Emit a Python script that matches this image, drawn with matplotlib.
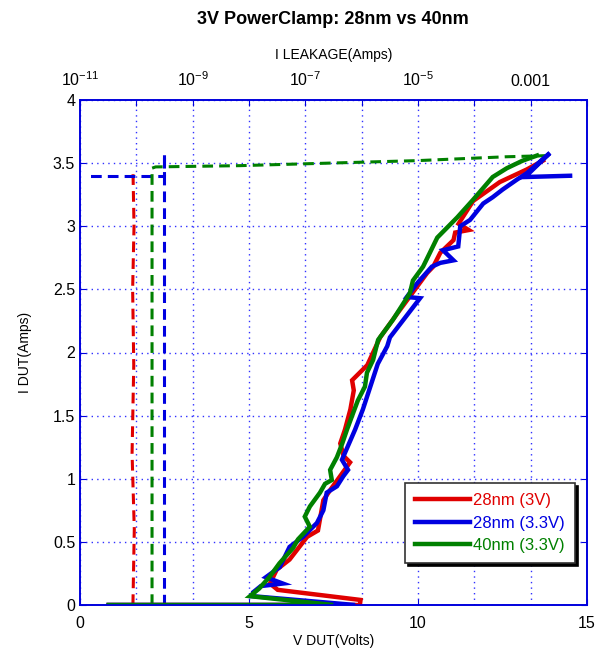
import matplotlib
matplotlib.use("Agg")
import matplotlib.pyplot as plt
from matplotlib.ticker import FixedLocator, FixedFormatter, NullLocator

plt.rcParams['font.family'] = ['Liberation Sans', 'DejaVu Sans']
plt.rcParams['mathtext.fontset'] = 'custom'
plt.rcParams['mathtext.rm'] = 'Liberation Sans'

# ---- TLP I-V data (V DUT in volts, I DUT in amps) ----
red_v = [0.85, 8.28, 8.3, 5.85, 5.62, 5.82, 6.2, 6.72, 7.04, 7.2, 7.4, 7.99, 7.8,
         7.7, 7.84, 8.0, 8.1, 8.05, 8.5, 8.88, 9.39, 10.27, 10.45, 10.66, 11.05,
         11.1, 11.5, 11.2, 11.63, 12.42, 13.22, 13.7]
red_i = [0.0, 0.0, 0.04, 0.12, 0.17, 0.28, 0.36, 0.54, 0.59, 0.83, 0.91, 1.13, 1.18,
         1.28, 1.39, 1.55, 1.7, 1.78, 1.9, 2.12, 2.31, 2.63, 2.68, 2.79, 2.89,
         2.95, 2.97, 3.02, 3.2, 3.35, 3.45, 3.52]

blue_v = [0.85, 8.14, 5.1, 5.12, 5.35, 6.0, 5.5, 5.91, 6.2, 6.6, 7.01, 7.2, 7.3,
          7.6, 7.79, 7.93, 7.75, 8.14, 8.37, 8.81, 9.09, 9.17, 10.06, 9.67, 9.98,
          10.41, 10.66, 11.05, 10.74, 11.19, 11.25, 11.54, 11.93, 12.21, 12.5,
          12.93, 13.22, 13.9, 13.17, 14.5]
blue_i = [0.0, 0.0, 0.07, 0.1, 0.15, 0.17, 0.22, 0.3, 0.46, 0.54, 0.65, 0.75, 0.89,
          0.94, 1.02, 1.07, 1.15, 1.39, 1.55, 1.91, 2.05, 2.12, 2.43, 2.44, 2.55,
          2.68, 2.71, 2.73, 2.81, 2.84, 3.0, 3.05, 3.18, 3.23, 3.29,
          3.37, 3.42, 3.58, 3.39, 3.40]

green_v = [0.85, 7.49, 5.03, 5.3, 5.6, 5.9, 6.3, 6.45, 6.8, 6.65, 6.8, 7.1, 7.25,
           7.45, 7.4, 7.6, 7.76, 7.9, 8.08, 8.22, 8.43, 8.49, 8.67, 8.82, 9.26,
           9.76, 9.85, 10.15, 10.57, 11.16, 11.63, 12.21, 12.63, 13.1, 13.52]
green_i = [0.0, 0.0, 0.07, 0.13, 0.22, 0.33, 0.45, 0.52, 0.62, 0.7, 0.78, 0.89, 0.96,
           0.99, 1.07, 1.17, 1.28, 1.39, 1.52, 1.62, 1.73, 1.84, 1.94, 2.1, 2.26,
           2.47, 2.57, 2.68, 2.91, 3.07, 3.21, 3.39, 3.46, 3.52, 3.56]

# ---- leakage after each pulse (amps) vs I DUT ----
red_leak = [8.7e-11, 9.2e-11, 8.4e-11, 9.0e-11, 8.6e-11, 9.1e-11, 8.7e-11]
red_leak_i = [0.0, 0.6, 1.2, 1.9, 2.5, 3.0, 3.46]

blue_leak = [3.1e-10, 3.1e-10, 3.1e-10, 3.1e-10, 1.45e-11]
blue_leak_i = [0.0, 3.4, 3.58, 3.40, 3.40]

green_leak = [1.9e-10, 1.9e-10, 2.2e-10, 6.9e-9, 1e-5, 3.5e-4, 2.2e-3]
green_leak_i = [0.0, 3.46, 3.47, 3.48, 3.52, 3.55, 3.56]

labels = ["28nm (3V)", "28nm (3.3V)", "40nm (3.3V)"]
colors = ["#e00000", "#0000e0", "#008000"]

leak_ticks = [1e-11, 1e-10, 1e-9, 1e-8, 1e-7, 1e-6, 1e-5, 1e-4, 1e-3, 1e-2]
leak_labels = ["$10^{-11}$", "", "$10^{-9}$", "", "$10^{-7}$", "", "$10^{-5}$", "", "0.001", ""]
v_ticks = [0, 5, 10, 15]
i_ticks = [0, 0.5, 1, 1.5, 2, 2.5, 3, 3.5, 4]

spine_blue = "#0000dd"
grid_blue = "#3030ff"

fig = plt.figure(figsize=(6.04, 6.56), dpi=100)
ax = fig.add_axes([80 / 604, 51 / 656, 507 / 604, 505 / 656])
axv = ax.twiny()   # voltage axis, drawn above the leakage axis

# leakage axis (log, top) - holds grid and dashed curves
ax.set_xscale("log")
ax.set_xlim(1e-11, 1e-2)
ax.set_ylim(0, 4)
ax.xaxis.set_major_locator(FixedLocator(leak_ticks))
ax.xaxis.set_major_formatter(FixedFormatter(leak_labels))
ax.xaxis.set_minor_locator(NullLocator())
ax.xaxis.set_ticks_position("top")
ax.xaxis.set_label_position("top")
ax.set_yticks(i_ticks)
ax.set_yticklabels(["%g" % t for t in i_ticks])
ax.set_axisbelow(True)
ax.grid(True, color=grid_blue, linestyle=(0, (1, 3)), linewidth=1.0)
ax.tick_params(axis="both", direction="in", colors=spine_blue, labelcolor="black",
               labelsize=11.5, length=4, right=True)
ax.tick_params(axis="x", pad=8)
ax.set_xlabel("I LEAKAGE(Amps)", fontsize=10, labelpad=8)
ax.set_ylabel("I DUT(Amps)", fontsize=10, labelpad=15)

for leak, li, c in [(red_leak, red_leak_i, colors[0]),
                    (blue_leak, blue_leak_i, colors[1]),
                    (green_leak, green_leak_i, colors[2])]:
    ax.plot(leak, li, color=c, linewidth=2.2, linestyle=(0, (3.5, 2)))

# voltage axis (linear, bottom) - holds solid TLP curves
axv.set_xlim(0, 15)
axv.set_xticks(v_ticks)
axv.xaxis.set_ticks_position("bottom")
axv.xaxis.set_label_position("bottom")
axv.tick_params(axis="x", direction="in", colors=spine_blue, labelcolor="black",
                labelsize=11.5, length=4, pad=8)
axv.set_xlabel("V DUT(Volts)", fontsize=10, labelpad=2)

handles = []
for v, i, c, lab in [(red_v, red_i, colors[0], labels[0]),
                     (blue_v, blue_i, colors[1], labels[1]),
                     (green_v, green_i, colors[2], labels[2])]:
    h, = axv.plot(v, i, color=c, linewidth=3.2, label=lab, solid_joinstyle="miter")
    handles.append(h)

for a in (ax, axv):
    for s in a.spines.values():
        s.set_color(spine_blue)
        s.set_linewidth(1.2)

leg = axv.legend(handles=handles, loc="lower left", bbox_to_anchor=(0.641, 0.083),
                 fancybox=False, shadow={"color": "black", "alpha": 1.0},
                 edgecolor="#333333", framealpha=1.0, fontsize=12,
                 handlelength=3.3, handletextpad=0.2, labelspacing=0.45,
                 borderpad=0.6, borderaxespad=0)
leg.get_frame().set_linewidth(1.2)
for txt, c in zip(leg.get_texts(), colors):
    txt.set_color(c)

fig.text(333 / 604, 1 - 19 / 656, "3V PowerClamp: 28nm vs 40nm", fontsize=13,
         fontweight="bold", ha="center", va="center")

fig.savefig("out.png", dpi=100)
